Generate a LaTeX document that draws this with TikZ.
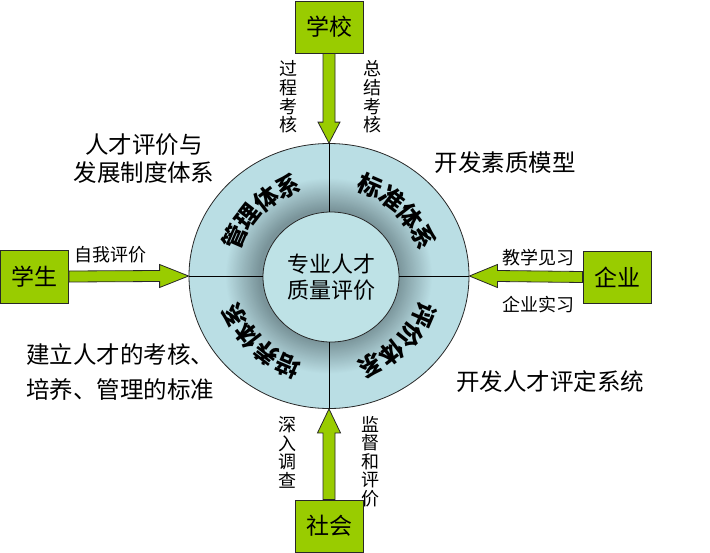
\documentclass[tikz,border=0pt]{standalone}
\usepackage{fontspec}
\setmainfont{Noto Sans CJK SC}
\usetikzlibrary{shapes.geometric,calc}
\definecolor{boxgreen}{RGB}{153,204,0}
\definecolor{ringlight}{RGB}{186,222,228}
\definecolor{ringdark}{RGB}{122,148,154}
\definecolor{innerfill}{RGB}{190,226,230}
\definecolor{edge}{RGB}{40,40,40}
\begin{document}
\begin{tikzpicture}[x=1pt,y=-1pt,
  box/.style={draw=edge, line width=0.9pt, fill=boxgreen, minimum width=68pt, minimum height=52pt, inner sep=0pt, font=\fontsize{23}{26}\selectfont},
  arrowshape/.style={draw=edge, line width=0.8pt, fill=boxgreen, line join=miter},
  lab/.style={inner sep=0pt, font=\fontsize{18}{18.6}\selectfont, align=center},
  biglab/.style={inner sep=0pt, font=\fontsize{23.5}{28}\selectfont},
  quad/.style={inner sep=0pt, font=\fontsize{24}{24}\selectfont\bfseries},
  divline/.style={draw=black, line width=0.7pt}]
\useasboundingbox (0,0) rectangle (710,552);
% ring and centre
\node[ellipse, draw=edge, line width=0.8pt, fill=ringlight, minimum width=280pt, minimum height=265pt, inner sep=0pt] (outer) at (329,276) {};
\foreach \k in {0,...,31}{
  \pgfmathsetmacro\rr{104-\k*1.1}
  \pgfmathsetmacro\pp{100-\k*100/31}
  \fill[ringlight!\pp!ringdark] (outer.center) ellipse [x radius=\rr pt, y radius=0.947*\rr pt];}
\node[ellipse, draw=edge, line width=0.8pt, fill=innerfill, minimum width=136pt, minimum height=130pt, inner sep=0pt, align=center, font=\fontsize{22}{26}\selectfont] (inner) at (331,277) {专业人才\\质量评价};
\draw[divline] (outer.north) -- (outer.north |- inner.north);
\draw[divline] (outer.south) -- (outer.south |- inner.south);
\draw[divline] (outer.west) -- (outer.west -| inner.west);
\draw[divline] (outer.east) -- (outer.east -| inner.east);
% quadrant texts
\foreach \ch [count=\i from 0] in {管,理,体,系}{
  \pgfmathsetmacro\a{156.75-\i*14.5}
  \node[quad, rotate=\a-90] (qa\i) at ({329+103*cos(\a)},{276-98*sin(\a)}) {\ch};}
\foreach \ch [count=\i from 0] in {标,准,体,系}{
  \pgfmathsetmacro\a{66.75-\i*14.5}
  \node[quad, rotate=\a-90] (qb\i) at ({329+103*cos(\a)},{276-98*sin(\a)}) {\ch};}
\foreach \ch [count=\i from 0] in {评,价,体,系}{
  \pgfmathsetmacro\a{-23.25-\i*14.5}
  \node[quad, rotate=\a-90] (qc\i) at ({329+103*cos(\a)},{276-98*sin(\a)}) {\ch};}
\foreach \ch [count=\i from 0] in {培,养,体,系}{
  \pgfmathsetmacro\a{246.75-\i*14.5}
  \node[quad, rotate=\a-90] (qd\i) at ({329+103*cos(\a)},{276-98*sin(\a)}) {\ch};}
% boxes
\node[box] (school) at (329,27) {学校};
\node[box, minimum height=53pt] (student) at (34.5,276.5) {学生};
\node[box] (enterprise) at (617,277) {企业};
\node[box] (society) at (329,526) {社会};
% arrows
\draw[arrowshape] ($(school.south)+(-6,0)$) -- ($(outer.north)+(-6,-21)$) -- ($(outer.north)+(-11,-21)$) -- (outer.north) -- ($(outer.north)+(11,-21)$) -- ($(outer.north)+(6,-21)$) -- ($(school.south)+(6,0)$) -- cycle;
\draw[arrowshape] ($(society.north)+(-6,0)$) -- ($(outer.south)+(-6,24)$) -- ($(outer.south)+(-11.5,24)$) -- (outer.south) -- ($(outer.south)+(11.5,24)$) -- ($(outer.south)+(6,24)$) -- ($(society.north)+(6,0)$) -- cycle;
\draw[arrowshape] ($(student.east)+(0,-5.5)$) -- ($(outer.west)+(-29,-5.5)$) -- ($(outer.west)+(-29,-11.5)$) -- (outer.west) -- ($(outer.west)+(-29,11.5)$) -- ($(outer.west)+(-29,5.5)$) -- ($(student.east)+(0,5.5)$) -- cycle;
\draw[arrowshape] ($(enterprise.west)+(0,-5.5)$) -- ($(outer.east)+(28,-5.5)$) -- ($(outer.east)+(28,-11.5)$) -- (outer.east) -- ($(outer.east)+(28,11.5)$) -- ($(outer.east)+(28,5.5)$) -- ($(enterprise.west)+(0,5.5)$) -- cycle;
% small labels
\node[lab] (l1) at (288,97) {过\\程\\考\\核};
\node[lab] (l2) at (372,97) {总\\结\\考\\核};
\node[lab] (l3) at (287,452.5) {深\\入\\调\\查};
\node[lab] (l4) at (370,461.5) {监\\督\\和\\评\\价};
\node[lab] (l5) at (110,255) {自我评价};
\node[lab] (l6) at (538,258) {教学见习};
\node[lab] (l7) at (538,305) {企业实习};
% big labels
\node[biglab, align=center] (b1) at (144,159) {人才评价与\\发展制度体系};
\node[biglab] (b2) at (505,163) {开发素质模型};
\node[biglab, align=left, anchor=west, font=\fontsize{23.5}{35}\selectfont] (b3) at (26,372.5) {建立人才的考核、\\培养、管理的标准};
\node[biglab] (b4) at (550,382) {开发人才评定系统};
\end{tikzpicture}
\end{document}
